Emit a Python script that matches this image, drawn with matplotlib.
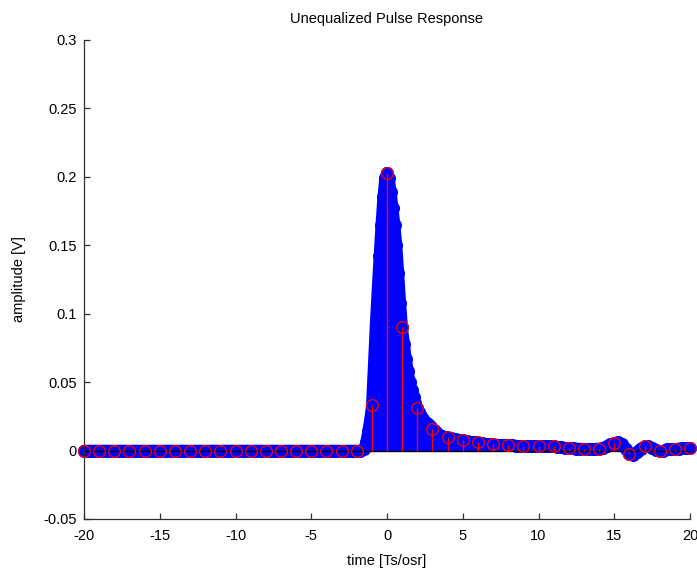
import numpy as np
import matplotlib
matplotlib.use("Agg")
import matplotlib.pyplot as plt

# ---------------- data ----------------
# oversampled pulse response (blue)
blue_t_flat = np.arange(-20, -1.74, 0.25)          # 74 samples
blue_v_flat = [0.0, 0.0, 0.0, 0.0, 0.0, 0.0, 0.0, 0.0, 0.0, 0.0,
               0.0, 0.0, 0.0, 0.0, 0.0, 0.0, 0.0, 0.0, 0.0, 0.0,
               0.0, 0.0, 0.0, 0.0, 0.0, 0.0, 0.0, 0.0, 0.0, 0.0,
               0.0, 0.0, 0.0, 0.0, 0.0, 0.0, 0.0, 0.0, 0.0, 0.0,
               0.0, 0.0, 0.0, 0.0, 0.0, 0.0, 0.0, 0.0, 0.0, 0.0,
               0.0, 0.0, 0.0, 0.0, 0.0, 0.0, 0.0, 0.0, 0.0, 0.0,
               0.0, 0.0, 0.0, 0.0, 0.0, 0.0, 0.0, 0.0, 0.0, 0.0,
               0.0, 0.0, 0.0, 0.0]

blue_t_pulse = np.arange(-1.5, 3.876, 0.125)       # 44 samples
blue_v_pulse = [0.001, 0.006, 0.014, 0.022, 0.033, 0.062, 0.092, 0.118,
                0.142, 0.165, 0.185, 0.199, 0.203, 0.199, 0.189, 0.177,
                0.165, 0.150, 0.130, 0.108, 0.090, 0.078, 0.067, 0.058,
                0.050, 0.044, 0.039, 0.035, 0.031, 0.028, 0.025, 0.023,
                0.021, 0.020, 0.019, 0.0175, 0.016, 0.015, 0.0135, 0.012,
                0.011, 0.0105, 0.010, 0.0098]

blue_t_tail = np.arange(4.0, 20.01, 0.25)          # 65 samples
blue_v_tail = [0.0095, 0.009, 0.0085, 0.008, 0.0075, 0.007, 0.0065, 0.006,
               0.0058, 0.0055, 0.005, 0.0048, 0.0045, 0.0043, 0.0042, 0.004,
               0.004, 0.0038, 0.0036, 0.0034, 0.003, 0.003, 0.003, 0.003,
               0.003, 0.003, 0.003, 0.003, 0.003, 0.0027, 0.0024, 0.002,
               0.0017, 0.0016, 0.0015, 0.0014, 0.0013, 0.0012, 0.0012, 0.0013,
               0.0015, 0.002, 0.003, 0.0045, 0.0055, 0.0062, 0.005, 0.0015,
               -0.0025, -0.003, -0.001, 0.0015, 0.003, 0.003, 0.002, 0.0005,
               -0.0005, 0.0, 0.0008, 0.0012, 0.0012, 0.0015, 0.0018, 0.002,
               0.002]

# symbol-rate samples (red)
red_t = np.arange(-20, 21, 1)
red_v = [0, 0, 0, 0, 0, 0, 0, 0, 0, 0,
         0, 0, 0, 0, 0, 0, 0, 0, 0,
         0.0336, 0.203, 0.090, 0.031, 0.016, 0.0098, 0.0078, 0.006, 0.0045, 0.004,
         0.003, 0.003, 0.003, 0.0017, 0.0013, 0.0015, 0.0055, -0.0025, 0.003, -0.0005,
         0.0012, 0.002]

x_ticks = [-20, -15, -10, -5, 0, 5, 10, 15, 20]
x_tick_labels = ["-20", "-15", "-10", "-5", "0", "5", "10", "15", "20"]
y_ticks = [-0.05, 0, 0.05, 0.1, 0.15, 0.2, 0.25, 0.3]
y_tick_labels = ["-0.05", "0", "0.05", "0.1", "0.15", "0.2", "0.25", "0.3"]

title = "Unequalized Pulse Response"
x_label = "time [Ts/osr]"
y_label = "amplitude [V]"

# ---------------- plot ----------------
plt.rcParams["font.family"] = ["Liberation Sans", "DejaVu Sans"]

blue_t = np.concatenate([blue_t_flat, blue_t_pulse, blue_t_tail])
blue_v = np.concatenate([blue_v_flat, blue_v_pulse, blue_v_tail])

BLUE = (0, 0, 1)
RED = (1, 0, 0)
MS = 8.4

fig = plt.figure(figsize=(6.97, 5.71), dpi=100)
ax = fig.add_axes([84 / 697, 1 - 519 / 571, (690 - 84) / 697, (519 - 40) / 571])

# blue stems (dense oversampled samples)
mk, st, bl = ax.stem(blue_t, blue_v, linefmt="b-", markerfmt="bo", basefmt=" ")
st.set_color(BLUE)
st.set_linewidth(2.9)
st.set_zorder(2)
mk.set_color(BLUE)
mk.set_markersize(MS)
mk.set_markerfacecolor(BLUE)
mk.set_markeredgecolor(BLUE)
mk.set_zorder(2.1)
mk.set_clip_on(False)
# the markers are so dense in the original that they merge into one band
ax.plot(blue_t, blue_v, color=BLUE, linewidth=MS, solid_capstyle="round",
        solid_joinstyle="round", zorder=2.05, clip_on=False)

# red stems (symbol-rate samples)
mk2, st2, bl2 = ax.stem(red_t, red_v, linefmt="r-", markerfmt="ro", basefmt="k-")
st2.set_color(RED)
st2.set_linewidth(1.0)
st2.set_zorder(3)
mk2.set_markersize(MS)
mk2.set_markerfacecolor("none")
mk2.set_markeredgecolor(RED)
mk2.set_markeredgewidth(0.9)
mk2.set_zorder(3.2)
mk2.set_clip_on(False)
bl2.set_color("black")
bl2.set_linewidth(1.0)
bl2.set_zorder(2.5)

ax.set_xlim(-20, 20)
ax.set_ylim(-0.05, 0.3)
ax.set_xticks(x_ticks)
ax.set_xticklabels(x_tick_labels)
ax.set_yticks(y_ticks)
ax.set_yticklabels(y_tick_labels)

for s in ["top", "right"]:
    ax.spines[s].set_visible(False)
for s in ["left", "bottom"]:
    ax.spines[s].set_color("#303030")
    ax.spines[s].set_linewidth(0.9)

ax.tick_params(direction="in", length=4.5, width=0.9, colors="#303030",
               labelcolor="black", labelsize=10.5)
ax.tick_params(axis="x", pad=7)
ax.tick_params(axis="y", pad=5)

ax.set_title(title, fontsize=10.5, pad=12)
ax.set_xlabel(x_label, fontsize=10.5, labelpad=8)
ax.set_ylabel(y_label, fontsize=10.5, labelpad=13)

fig.savefig("out.png", dpi=100)
